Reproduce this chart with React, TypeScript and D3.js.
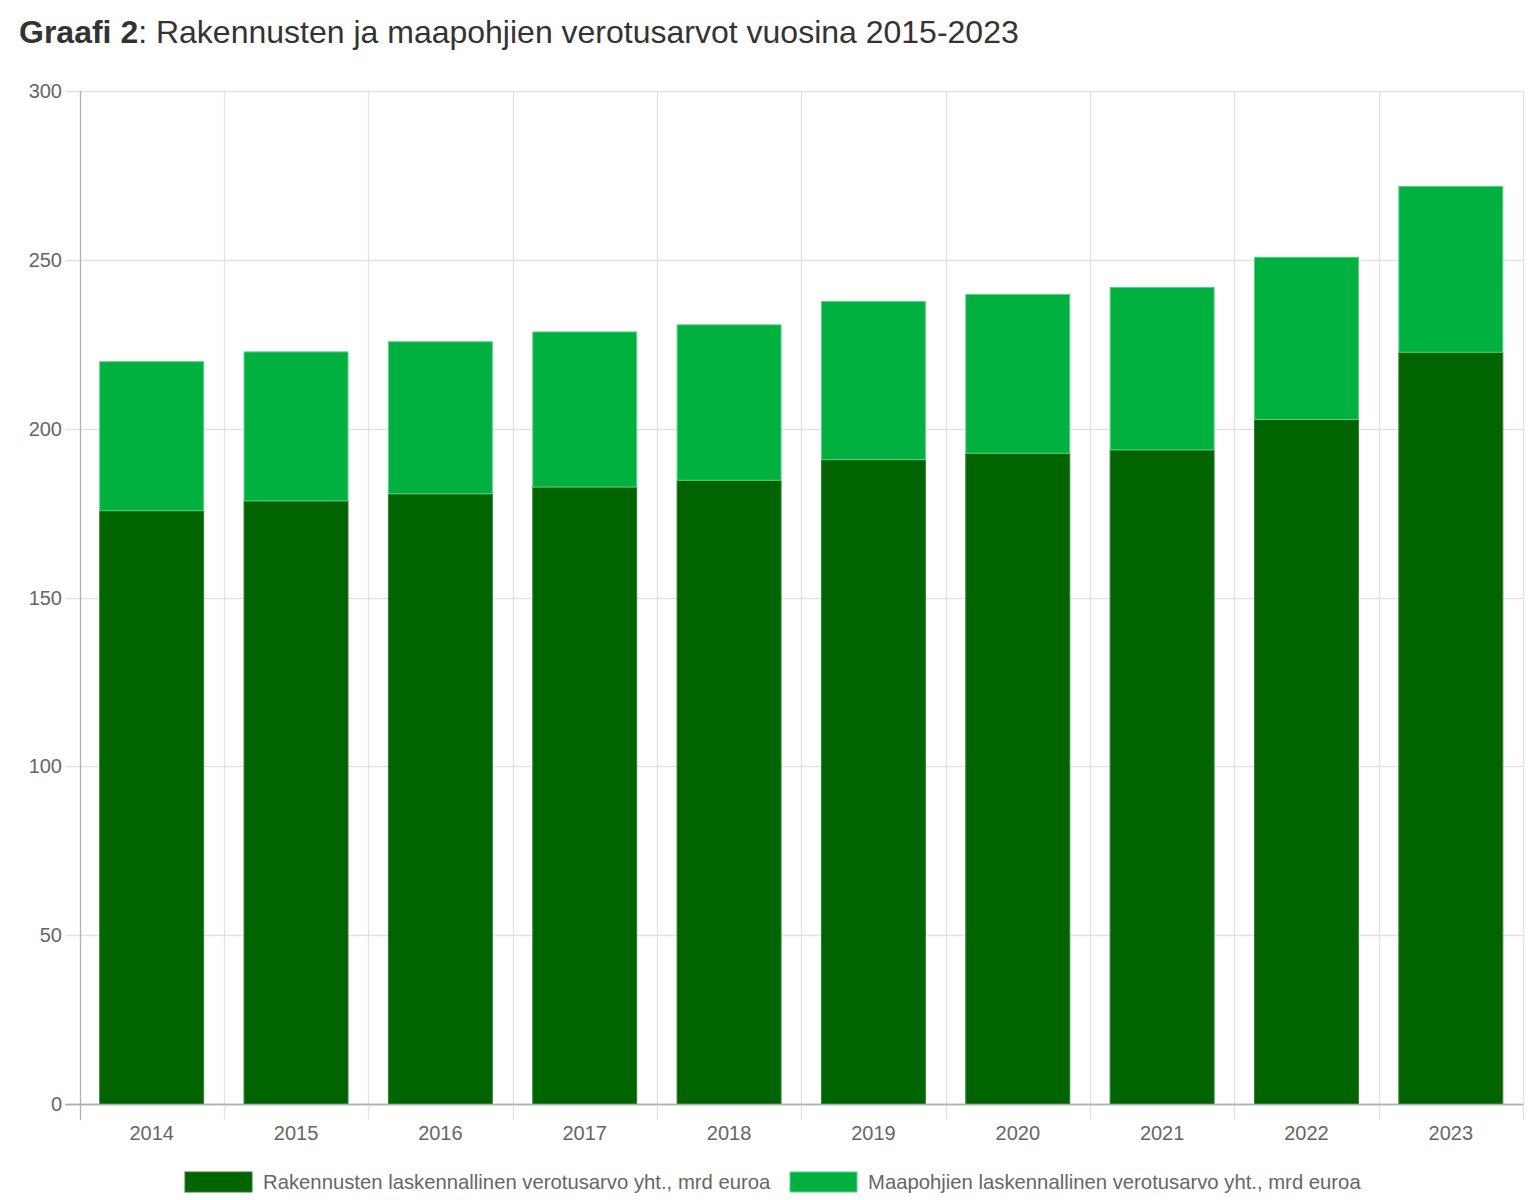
import React, { useEffect, useRef } from 'react';
import * as d3 from 'd3';

const years = ['2014', '2015', '2016', '2017', '2018', '2019', '2020', '2021', '2022', '2023'];
const buildings = [175.7, 178.6, 180.7, 182.7, 184.7, 190.8, 192.7, 193.7, 202.7, 222.6];
const land = [44.1, 44.1, 45.0, 45.9, 46.0, 46.8, 47.0, 48.1, 48.0, 49.1];
const yTicks = [0, 50, 100, 150, 200, 250, 300];
const seriesNames = [
  'Rakennusten laskennallinen verotusarvo yht., mrd euroa',
  'Maapohjien laskennallinen verotusarvo yht., mrd euroa'
];
const seriesColors = ['#006400', '#00b140'];
const seriesBorders = ['#2f7f2f', '#5ccf86'];

const W = 1539;
const H = 1200;
const FONT = '"Liberation Sans", Arial, sans-serif';

const StackedBars: React.FC = () => {
  const svgRef = useRef<SVGSVGElement>(null);

  useEffect(() => {
    if (!svgRef.current) return;
    const svg = d3.select(svgRef.current);
    svg.selectAll('*').remove();

    const left = 79.5, right = 1523, top = 90.7, bottom = 1104.3;

    const x = d3.scaleBand().domain(years).range([left, right]).paddingInner(0).paddingOuter(0);
    const y = d3.scaleLinear().domain([0, 300]).range([bottom, top]);

    // Title
    const title = svg.append('text')
      .attr('x', 19)
      .attr('y', 43)
      .style('font-family', FONT)
      .style('font-size', '32px')
      .style('fill', '#333');
    title.append('tspan').style('font-weight', 'bold').text('Graafi 2');
    title.append('tspan').text(': Rakennusten ja maapohjien verotusarvot vuosina 2015-2023');

    const grid = svg.append('g');

    // horizontal grid + tick marks
    grid.selectAll('.hgrid')
      .data(yTicks)
      .enter()
      .append('line')
      .attr('x1', left - 14)
      .attr('x2', right)
      .attr('y1', d => Math.round(y(d)) + 0.5)
      .attr('y2', d => Math.round(y(d)) + 0.5)
      .attr('stroke', d => (d === 0 ? '#b0b0b0' : '#e2e2e2'))
      .attr('stroke-width', 1.3);

    // vertical grid at category boundaries
    const bounds = years.map(d => x(d) as number).concat([right]);
    grid.selectAll('.vgrid')
      .data(bounds)
      .enter()
      .append('line')
      .attr('x1', d => Math.round(d) + 0.5)
      .attr('x2', d => Math.round(d) + 0.5)
      .attr('y1', top)
      .attr('y2', bottom + 16)
      .attr('stroke', (d, i) => (i === 0 ? '#b0b0b0' : '#e2e2e2'))
      .attr('stroke-width', 1.3);

    // Stack
    const rows = years.map((yr, i) => ({ year: yr, b: buildings[i], l: land[i] }));
    const stack = d3.stack<{ year: string; b: number; l: number }>().keys(['b', 'l']);
    const layers = stack(rows);

    const barW = x.bandwidth() * 0.72;
    const off = (x.bandwidth() - barW) / 2;

    layers.forEach((layer, li) => {
      svg.append('g')
        .selectAll('rect')
        .data(layer)
        .enter()
        .append('rect')
        .attr('x', d => (x(d.data.year) as number) + off)
        .attr('y', d => y(d[1]))
        .attr('width', barW)
        .attr('height', d => y(d[0]) - y(d[1]))
        .attr('fill', seriesColors[li])
        .attr('stroke', seriesBorders[li])
        .attr('stroke-width', 1);
    });

    // redraw zero axis on top
    svg.append('line')
      .attr('x1', left - 14)
      .attr('x2', right)
      .attr('y1', Math.round(bottom) + 0.5)
      .attr('y2', Math.round(bottom) + 0.5)
      .attr('stroke', '#b0b0b0')
      .attr('stroke-width', 1.3);

    // y labels
    svg.append('g')
      .selectAll('text')
      .data(yTicks)
      .enter()
      .append('text')
      .attr('x', 62)
      .attr('y', d => y(d))
      .attr('dy', '0.35em')
      .attr('text-anchor', 'end')
      .style('font-family', FONT)
      .style('font-size', '20px')
      .style('fill', '#666')
      .text(d => d);

    // x labels
    svg.append('g')
      .selectAll('text')
      .data(years)
      .enter()
      .append('text')
      .attr('x', d => (x(d) as number) + x.bandwidth() / 2)
      .attr('y', 1140)
      .attr('text-anchor', 'middle')
      .style('font-family', FONT)
      .style('font-size', '20px')
      .style('fill', '#666')
      .text(d => d);

    // Legend
    const legendX = [185, 790];
    const legend = svg.append('g');
    const items = legend.selectAll('g')
      .data(seriesNames)
      .enter()
      .append('g')
      .attr('transform', (d, i) => `translate(${legendX[i]}, 1172)`);

    items.append('rect')
      .attr('width', 67)
      .attr('height', 20)
      .attr('fill', (d, i) => seriesColors[i])
      .attr('stroke', (d, i) => seriesBorders[i])
      .attr('stroke-width', 1);

    items.append('text')
      .attr('x', 78)
      .attr('y', 10)
      .attr('dy', '0.35em')
      .style('font-family', FONT)
      .style('font-size', '20.3px')
      .style('fill', '#666')
      .text(d => d);
  }, []);

  return <svg ref={svgRef} width={W} height={H} style={{ display: 'block' }} />;
};

export default function App() {
  return (
    <div style={{ position: 'absolute', left: 0, top: 0, background: '#fff' }}>
      <StackedBars />
    </div>
  );
}
